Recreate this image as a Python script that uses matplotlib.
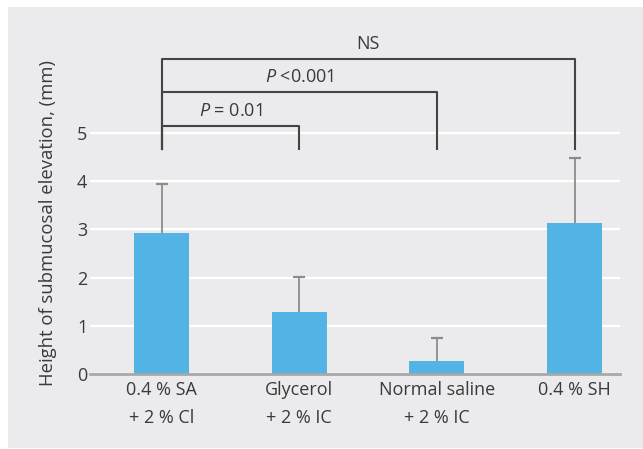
import numpy as np
import matplotlib
matplotlib.use("Agg")
import matplotlib.pyplot as plt
from matplotlib.patches import Rectangle

# data
groups = ["0.4 % SA\n+ 2 % Cl", "Glycerol\n+ 2 % IC", "Normal saline\n+ 2 % IC", "0.4 % SH"]
means = [2.93, 1.29, 0.27, 3.14]
sds = [1.01, 0.72, 0.48, 1.35]

# significance brackets: (from group, to group, top height, label)
brackets = [
    (0, 1, 5.15, r"$\it{P}$ = 0.01"),
    (0, 2, 5.86, r"$\it{P}$ <0.001"),
    (0, 3, 6.54, "NS"),
]
bracket_bottom = 4.67

plt.rcParams['font.family'] = ['Open Sans', 'DejaVu Sans']
plt.rcParams['mathtext.fontset'] = 'custom'
plt.rcParams['mathtext.rm'] = 'Open Sans'
plt.rcParams['mathtext.it'] = 'Open Sans:italic'

bg = '#ebebed'
txt = '#3a3a3a'

fig = plt.figure(figsize=(6.43, 4.49), dpi=100)
# grey panel behind everything
fig.add_artist(Rectangle((8 / 643, 1 / 449), 635 / 643, 441 / 449,
                         transform=fig.transFigure, facecolor=bg,
                         edgecolor='none', zorder=-10))
ax = fig.add_axes([90 / 643, 1 - 374 / 449, 530 / 643, 337.4 / 449])
ax.set_facecolor(bg)

x = np.arange(len(groups))
tops = np.array(means) + np.array(sds)
ax.bar(x, means, width=0.4, color='#53b3e4', zorder=3)
# upper-only error bars
ax.vlines(x, means, tops, color='#8c8c8c', lw=1.3, zorder=2)
ax.plot(x, tops, ls='none', marker='_', ms=9, mew=1.6, color='#8c8c8c', zorder=2)

for a, b, top, label in brackets:
    ax.plot([a, a, b, b], [bracket_bottom, top, top, bracket_bottom],
            color='#444444', lw=1.5, clip_on=False, zorder=4)
    ax.text((a + b) / 2, top + 0.3, label, ha='center', va='center',
            fontsize=13, color=txt)

ax.set_xlim(-0.52, 3.33)
ax.set_ylim(0, 7)
ax.set_yticks(range(6))
ax.set_xticks(x)
ax.set_xticklabels(groups, fontsize=13, color=txt, linespacing=1.7)
ax.tick_params(axis='y', labelsize=13, labelcolor=txt, length=0, pad=2)
ax.tick_params(axis='x', length=0, pad=5)
ax.grid(axis='y', color='white', lw=1.6, zorder=1)
ax.set_axisbelow(True)
for s in ['top', 'right', 'left']:
    ax.spines[s].set_visible(False)
ax.spines['bottom'].set_color('#a8a8a8')
ax.spines['bottom'].set_linewidth(2)
ax.spines['bottom'].set_zorder(5)
ax.set_ylabel("Height of submucosal elevation, (mm)", fontsize=13.3, color=txt)
ax.yaxis.set_label_coords(-0.062, 0.4475)

fig.savefig('out.png', dpi=100, facecolor='white')
